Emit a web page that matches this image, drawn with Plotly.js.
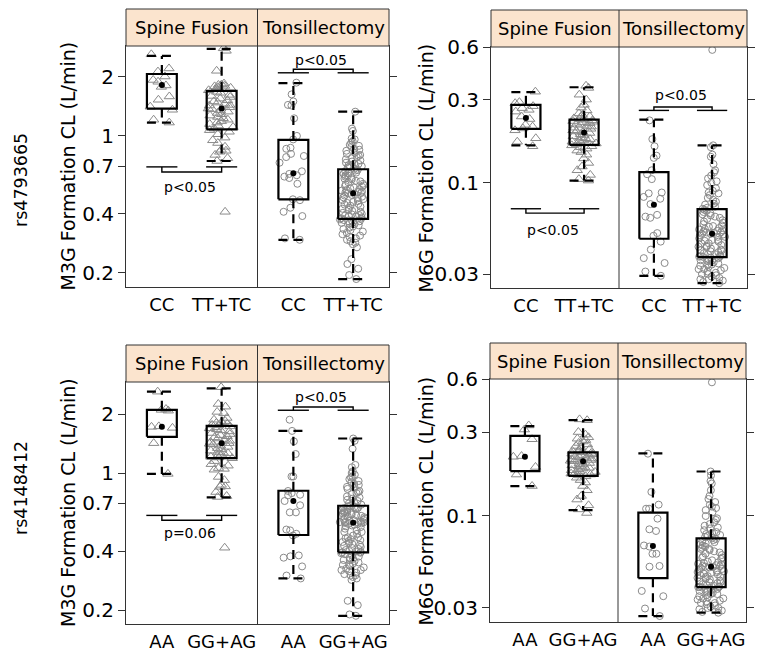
<!DOCTYPE html>
<html><head><meta charset="utf-8">
<script src="https://cdn.plot.ly/plotly-3.0.1.min.js"></script>
<style>html,body{margin:0;padding:0;background:#fff}</style>
</head><body><div id="chart" style="width:764px;height:655px"></div>
<script>
// ---------- labels ----------
const facets = ['Spine Fusion', 'Tonsillectomy'];
const genoA = ['CC', 'TT+TC', 'CC', 'TT+TC'];          // rs4793665
const genoB = ['AA', 'GG+AG', 'AA', 'GG+AG'];          // rs4148412
const rowLabels = ['rs4793665', 'rs4148412'];
const yTitles = ['M3G Formation CL (L/min)', 'M6G Formation CL (L/min)'];
const m3gTicks = [0.2, 0.4, 0.7, 1, 2];
const m6gTicks = [0.03, 0.1, 0.3, 0.6];

// ---------- M3G, rs4793665 ----------
const m3g_A_spine_CC = [2.61, 2.21, 2.13, 2.01, 1.93, 1.89, 1.81, 1.78, 1.59, 1.53, 1.41, 1.36, 1.21, 1.17];
const m3g_A_spine_TT = [2.80, 2.72, 2.15, 1.85, 1.83, 1.82, 1.80, 1.79, 1.77, 1.76, 1.74, 1.71, 1.68, 1.66, 1.62, 1.60, 1.58, 1.55, 1.52, 1.50, 1.48, 1.46, 1.44, 1.43, 1.40, 1.38, 1.37, 1.35, 1.33, 1.31, 1.29, 1.27, 1.25, 1.23, 1.21, 1.19, 1.17, 1.15, 1.13, 1.11, 1.09, 1.07, 1.05, 1.02, 0.98, 0.95, 0.92, 0.88, 0.85, 0.84, 0.83, 0.80, 0.77, 0.745, 0.41];
const m3g_A_tons_CC = [1.87, 1.63, 1.50, 1.44, 1.43, 1.23, 1.00, 0.96, 0.87, 0.86, 0.81, 0.79, 0.78, 0.73, 0.66, 0.64, 0.63, 0.62, 0.61, 0.57, 0.475, 0.47, 0.43, 0.41, 0.39, 0.30, 0.295];
const m3g_A_tons_TT = [1.33, 1.09, 1.06, 0.97, 0.96, 0.94, 0.92, 0.90, 0.89, 0.88, 0.86, 0.85, 0.84, 0.82, 0.81, 0.80, 0.79, 0.78, 0.77, 0.76, 0.75, 0.74, 0.73, 0.72, 0.72, 0.71, 0.70, 0.70, 0.69, 0.68,
  0.67, 0.665, 0.66, 0.65, 0.645, 0.64, 0.63, 0.628, 0.62, 0.61, 0.606, 0.60, 0.59, 0.586, 0.58, 0.57, 0.566, 0.56, 0.555, 0.55, 0.546, 0.54, 0.535, 0.53, 0.526, 0.52, 0.518, 0.515, 0.512, 0.51,
  0.505, 0.50, 0.496, 0.49, 0.486, 0.48, 0.476, 0.47, 0.465, 0.46, 0.455, 0.45, 0.446, 0.44, 0.436, 0.43, 0.425, 0.42, 0.415, 0.41, 0.405, 0.40, 0.398, 0.395, 0.392, 0.39, 0.387, 0.384, 0.38, 0.378,
  0.375, 0.372, 0.37, 0.367, 0.365, 0.362, 0.36, 0.357, 0.355, 0.35, 0.345, 0.34, 0.335, 0.33, 0.325, 0.32, 0.315, 0.31, 0.305, 0.30, 0.295, 0.29, 0.285, 0.28, 0.27, 0.235, 0.222, 0.21, 0.195, 0.186];
const m3g_A_q1  = [1.38, 1.08, 0.475, 0.377];
const m3g_A_med = [1.82, 1.38, 0.645, 0.51];
const m3g_A_q3  = [2.07, 1.70, 0.954, 0.676];
const m3g_A_lo  = [1.17, 0.745, 0.295, 0.186];
const m3g_A_hi  = [2.56, 2.78, 1.86, 1.33];

// ---------- M6G, rs4793665 ----------
const m6g_A_spine_CC = [0.333, 0.29, 0.286, 0.275, 0.268, 0.262, 0.256, 0.24, 0.232, 0.215, 0.21, 0.205, 0.2, 0.18, 0.172, 0.162];
const m6g_A_spine_TT = [0.36, 0.35, 0.32, 0.30, 0.28, 0.27, 0.26, 0.25, 0.245, 0.24, 0.237, 0.234, 0.232, 0.23, 0.228, 0.226, 0.224, 0.222, 0.22, 0.218, 0.215, 0.212, 0.21, 0.207, 0.204, 0.2, 0.197, 0.195, 0.193, 0.19, 0.188, 0.185, 0.182, 0.18, 0.178, 0.176, 0.174, 0.172, 0.17, 0.168, 0.166, 0.164, 0.162, 0.16, 0.157, 0.153, 0.15, 0.145, 0.138, 0.13, 0.124, 0.118, 0.111, 0.105, 0.103];
const m6g_A_tons_CC = [0.228, 0.178, 0.162, 0.143, 0.139, 0.118, 0.112, 0.105, 0.088, 0.087, 0.083, 0.081, 0.0755, 0.0655, 0.064, 0.063, 0.0515, 0.0497, 0.046, 0.0414, 0.037, 0.0347, 0.031, 0.0293];
const m6g_A_tons_TT = [0.578, 0.164, 0.16, 0.145, 0.141, 0.128, 0.118, 0.115, 0.11, 0.106, 0.102, 0.1, 0.097, 0.093, 0.09, 0.088, 0.087, 0.085, 0.082, 0.08, 0.078, 0.076, 0.075, 0.073, 0.072, 0.071,
  0.07, 0.069, 0.068, 0.067, 0.066, 0.065, 0.064, 0.063, 0.062, 0.061, 0.06, 0.059, 0.058, 0.057, 0.0565, 0.056, 0.055, 0.0545, 0.054, 0.0535, 0.053, 0.0525, 0.052, 0.0515, 0.051, 0.0505, 0.051, 0.052,
  0.05, 0.049, 0.048, 0.047, 0.0465, 0.046, 0.045, 0.044, 0.0435, 0.043, 0.042, 0.0415, 0.041, 0.0405, 0.04, 0.0395, 0.039, 0.0385, 0.038, 0.0378, 0.0376, 0.049, 0.047, 0.045, 0.043, 0.041, 0.039, 0.0377,
  0.0373, 0.037, 0.0365, 0.036, 0.0355, 0.035, 0.0345, 0.034, 0.0335, 0.033, 0.0325, 0.032, 0.0315, 0.031, 0.0305, 0.03, 0.0295, 0.029, 0.0285, 0.028, 0.0275, 0.027, 0.0266, 0.036, 0.034, 0.032, 0.03, 0.028];
const m6g_A_q1  = [0.204, 0.165, 0.0478, 0.0375];
const m6g_A_med = [0.235, 0.194, 0.0748, 0.051];
const m6g_A_q3  = [0.28, 0.23, 0.115, 0.0707];
const m6g_A_lo  = [0.164, 0.103, 0.0293, 0.0266];
const m6g_A_hi  = [0.331, 0.353, 0.23, 0.164];

// ---------- M3G, rs4148412 ----------
const m3g_B_spine_AA = [2.6, 2.12, 2.1, 2.08, 1.73, 1.72, 1.70, 1.42, 0.99];
const m3g_B_spine_GG = [2.74, 2.25, 2.18, 2.05, 2.02, 1.91, 1.87, 1.84, 1.82, 1.8, 1.78, 1.76, 1.75, 1.73, 1.71, 1.69, 1.67, 1.65, 1.63, 1.6, 1.58, 1.56, 1.54, 1.52, 1.5, 1.48, 1.46, 1.44, 1.42, 1.41, 1.4, 1.38, 1.36, 1.34, 1.32, 1.3, 1.28, 1.27, 1.26, 1.24, 1.22, 1.21, 1.2, 1.19, 1.15, 1.11, 1.09, 1.06, 1.05, 1.04, 0.955, 0.92, 0.87, 0.855, 0.85, 0.8, 0.763, 0.755, 0.416];
const m3g_B_tons_AA = [1.87, 1.64, 1.45, 1.25, 0.96, 0.96, 0.81, 0.79, 0.775, 0.77, 0.72, 0.685, 0.63, 0.63, 0.515, 0.51, 0.49, 0.48, 0.38, 0.376, 0.37, 0.334, 0.3, 0.29];
const m3g_B_tons_GG = [1.50, 1.46, 1.33, 1.1, 1.07, 1.02, 1.0, 0.98, 0.96, 0.95, 0.93, 0.91, 0.9, 0.88, 0.87, 0.85, 0.84, 0.83, 0.81, 0.8, 0.79, 0.78, 0.76, 0.75, 0.74, 0.73, 0.72, 0.71, 0.7, 0.69,
  0.68, 0.675, 0.67, 0.665, 0.66, 0.655, 0.65, 0.645, 0.64, 0.635, 0.63, 0.625, 0.62, 0.615, 0.61, 0.605, 0.6, 0.595, 0.59, 0.585, 0.58, 0.577, 0.574, 0.571, 0.568, 0.565, 0.562, 0.56, 0.558, 0.557, 0.66,
  0.553, 0.55, 0.545, 0.54, 0.535, 0.53, 0.52, 0.51, 0.5, 0.49, 0.48, 0.47, 0.465, 0.46, 0.455, 0.45, 0.445, 0.44, 0.435, 0.43, 0.425, 0.42, 0.415, 0.41, 0.405, 0.4, 0.398, 0.396, 0.394, 0.5, 0.47,
  0.392, 0.39, 0.385, 0.38, 0.375, 0.37, 0.365, 0.36, 0.355, 0.35, 0.345, 0.34, 0.335, 0.33, 0.325, 0.32, 0.315, 0.31, 0.305, 0.3, 0.295, 0.29, 0.285, 0.36, 0.34, 0.32, 0.3, 0.223, 0.212, 0.19, 0.187];
const m3g_B_q1  = [1.53, 1.19, 0.483, 0.394];
const m3g_B_med = [1.72, 1.42, 0.72, 0.557];
const m3g_B_q3  = [2.10, 1.74, 0.812, 0.681];
const m3g_B_lo  = [0.99, 0.751, 0.29, 0.187];
const m3g_B_hi  = [2.60, 2.70, 1.64, 1.50];

// ---------- M6G, rs4148412 ----------
const m6g_B_spine_AA = [0.327, 0.31, 0.273, 0.219, 0.217, 0.19, 0.172, 0.148];
const m6g_B_spine_GG = [0.354, 0.35, 0.3, 0.29, 0.28, 0.275, 0.27, 0.265, 0.26, 0.255, 0.25, 0.245, 0.24, 0.237, 0.234, 0.232, 0.23, 0.228, 0.226, 0.224, 0.222, 0.22, 0.218, 0.216, 0.214, 0.212, 0.21, 0.208, 0.206, 0.205, 0.203, 0.2, 0.198, 0.196, 0.194, 0.192, 0.19, 0.188, 0.186, 0.184, 0.182, 0.18, 0.178, 0.176, 0.174, 0.172, 0.17, 0.168, 0.165, 0.16, 0.155, 0.148, 0.14, 0.13, 0.124, 0.115, 0.109, 0.104];
const m6g_B_tons_AA = [0.226, 0.137, 0.116, 0.11, 0.11, 0.0966, 0.084, 0.0822, 0.068, 0.067, 0.061, 0.061, 0.052, 0.0515, 0.0375, 0.035, 0.0298, 0.027];
const m6g_B_tons_GG = [0.575, 0.179, 0.17, 0.158, 0.153, 0.14, 0.13, 0.12, 0.116, 0.113, 0.111, 0.105, 0.1, 0.097, 0.092, 0.09, 0.086, 0.085, 0.083, 0.081, 0.079, 0.078, 0.077, 0.076, 0.075, 0.08, 0.088, 0.095, 0.108, 0.125,
  0.074, 0.073, 0.072, 0.071, 0.07, 0.069, 0.068, 0.067, 0.066, 0.065, 0.064, 0.063, 0.062, 0.061, 0.06, 0.059, 0.058, 0.057, 0.056, 0.055, 0.0545, 0.054, 0.0535, 0.053, 0.0525, 0.052, 0.0518, 0.0516, 0.065, 0.058,
  0.0512, 0.051, 0.0505, 0.05, 0.0495, 0.049, 0.0485, 0.048, 0.0475, 0.047, 0.0465, 0.046, 0.0455, 0.045, 0.0445, 0.044, 0.0435, 0.043, 0.0425, 0.042, 0.0415, 0.041, 0.0405, 0.04, 0.0398, 0.0396, 0.0394, 0.048, 0.045, 0.042,
  0.0392, 0.039, 0.0385, 0.038, 0.0375, 0.037, 0.0365, 0.036, 0.0355, 0.035, 0.0345, 0.034, 0.0335, 0.033, 0.0325, 0.032, 0.0315, 0.031, 0.0305, 0.03, 0.0295, 0.029, 0.0285, 0.0282, 0.038, 0.036, 0.034, 0.032, 0.03, 0.0395];
const m6g_B_q1  = [0.18, 0.169, 0.0443, 0.0394];
const m6g_B_med = [0.217, 0.205, 0.0675, 0.0515];
const m6g_B_q3  = [0.285, 0.23, 0.1045, 0.0747];
const m6g_B_lo  = [0.148, 0.108, 0.027, 0.0282];
const m6g_B_hi  = [0.324, 0.351, 0.227, 0.179];

// significance brackets: [facet, level, bend, text level, text]
const brk1 = [[0, 0.695, 0.655, 0.55, 'p<0.05'], [1, 2.10, 2.19, 2.44, 'p<0.05']];
const brk2 = [[0, 0.071, 0.067, 0.0533, 'p<0.05'], [1, 0.26, 0.272, 0.319, 'p<0.05']];
const brk3 = [[0, 0.608, 0.574, 0.494, 'p=0.06'], [1, 2.09, 2.17, 2.44, 'p<0.05']];
const brk4 = [];

// ---------- build ----------
const W = 764, H = 655;
const FONT = 'DejaVu Sans';
const FRAME = '#333';
const PEACH = 'rgb(251,228,206)';
const POS = [1, 2, 3.2, 4.2];
const HW = 0.25;
const px = v => v / W, py = v => 1 - v / H;

const geo = [
  {l: 126, r: 389, top: 46, bot: 287, head: 9},
  {l: 491, r: 747, top: 47, bot: 288, head: 10},
  {l: 126, r: 389, top: 382, bot: 624, head: 345},
  {l: 490, r: 746, top: 379, bot: 622, head: 343}
];
const yr = [[-0.771, 0.459], [-1.603, Math.log10(0.6) + 0.0004], [-0.770, 0.4643], [-1.6025, Math.log10(0.6) + 0.0004]];

const panels = [
  {groups: [m3g_A_spine_CC, m3g_A_spine_TT, m3g_A_tons_CC, m3g_A_tons_TT], labels: genoA, q1: m3g_A_q1, med: m3g_A_med, q3: m3g_A_q3, lo: m3g_A_lo, hi: m3g_A_hi, ticks: m3gTicks, brk: brk1, title: yTitles[0]},
  {groups: [m6g_A_spine_CC, m6g_A_spine_TT, m6g_A_tons_CC, m6g_A_tons_TT], labels: genoA, q1: m6g_A_q1, med: m6g_A_med, q3: m6g_A_q3, lo: m6g_A_lo, hi: m6g_A_hi, ticks: m6gTicks, brk: brk2, title: yTitles[1]},
  {groups: [m3g_B_spine_AA, m3g_B_spine_GG, m3g_B_tons_AA, m3g_B_tons_GG], labels: genoB, q1: m3g_B_q1, med: m3g_B_med, q3: m3g_B_q3, lo: m3g_B_lo, hi: m3g_B_hi, ticks: m3gTicks, brk: brk3, title: yTitles[0]},
  {groups: [m6g_B_spine_AA, m6g_B_spine_GG, m6g_B_tons_AA, m6g_B_tons_GG], labels: genoB, q1: m6g_B_q1, med: m6g_B_med, q3: m6g_B_q3, lo: m6g_B_lo, hi: m6g_B_hi, ticks: m6gTicks, brk: brk4, title: yTitles[1]}
];

const traces = [], shapes = [], annotations = [];
const layout = {
  width: W, height: H, margin: {l: 0, r: 0, t: 0, b: 0},
  paper_bgcolor: '#fff', plot_bgcolor: '#fff', showlegend: false,
  font: {family: FONT, color: '#000'}, hovermode: false
};

panels.forEach((p, k) => {
  const n = k + 1;
  const xa = n === 1 ? 'x' : 'x' + n, ya = n === 1 ? 'y' : 'y' + n;
  const g = geo[k];
  layout[n === 1 ? 'xaxis' : 'xaxis' + n] = {
    domain: [px(g.l), px(g.r)], anchor: ya, range: [0.4, 4.8],
    tickmode: 'array', tickvals: POS, ticktext: p.labels, ticks: '',
    tickfont: {size: 18, family: FONT}, ticklabelstandoff: 1,
    showgrid: false, zeroline: false, showline: true, mirror: true, linecolor: FRAME, linewidth: 1
  };
  layout[n === 1 ? 'yaxis' : 'yaxis' + n] = {
    domain: [py(g.bot), py(g.top)], anchor: xa, type: 'log', range: yr[k],
    tickmode: 'array', tickvals: p.ticks, ticktext: p.ticks.map(String),
    ticks: 'outside', ticklen: 7, tickwidth: 1, tickcolor: FRAME,
    tickfont: {size: 20, family: FONT},
    showgrid: false, zeroline: false, showline: true, mirror: 'ticks', linecolor: FRAME, linewidth: 1
  };

  // jittered points
  p.groups.forEach((vals, i) => {
    const tri = i < 2;
    traces.push({
      type: 'box', y: vals, x0: POS[i], xaxis: xa, yaxis: ya,
      boxpoints: 'all', jitter: 0.95, pointpos: 0, width: 2 * HW,
      line: {width: 0, color: 'rgba(0,0,0,0)'}, fillcolor: 'rgba(0,0,0,0)', whiskerwidth: 0,
      marker: {symbol: tri ? 'triangle-up-open' : 'circle-open', size: tri ? 9 : 7, color: '#8a8a8a', line: {width: 1}},
      hoverinfo: 'skip'
    });
  });

  // boxes, whiskers, medians
  POS.forEach((c, i) => {
    traces.push({
      type: 'scatter', mode: 'lines', xaxis: xa, yaxis: ya, hoverinfo: 'skip',
      x: [c - HW, c + HW, c + HW, c - HW, c - HW],
      y: [p.q1[i], p.q1[i], p.q3[i], p.q3[i], p.q1[i]],
      line: {color: '#000', width: 2.2}
    });
    traces.push({
      type: 'scatter', mode: 'lines', xaxis: xa, yaxis: ya, hoverinfo: 'skip', connectgaps: false,
      x: [c, c, null, c - HW, c + HW, null, c, c, null, c - HW, c + HW],
      y: [p.q3[i], p.hi[i], null, p.hi[i], p.hi[i], null, p.q1[i], p.lo[i], null, p.lo[i], p.lo[i]],
      line: {color: '#000', width: 2.2, dash: '9px,6px'}
    });
    traces.push({
      type: 'scatter', mode: 'markers', xaxis: xa, yaxis: ya, hoverinfo: 'skip',
      x: [c], y: [p.med[i]], marker: {color: '#000', size: 6}
    });
  });

  // brackets
  p.brk.forEach(b => {
    const a = POS[b[0] * 2], c2 = POS[b[0] * 2 + 1];
    traces.push({
      type: 'scatter', mode: 'lines', xaxis: xa, yaxis: ya, hoverinfo: 'skip', connectgaps: false,
      x: [a - 0.26, a + 0.26, null, a, a, c2, c2, null, c2 - 0.26, c2 + 0.26],
      y: [b[1], b[1], null, b[1], b[2], b[2], b[1], null, b[1], b[1]],
      line: {color: '#000', width: 1.4}
    });
    annotations.push({
      xref: xa, yref: ya, x: (a + c2) / 2 - 0.03, y: Math.log10(b[3]), text: b[4],
      showarrow: false, xanchor: 'center', yanchor: 'middle', font: {size: 14, family: FONT, color: '#000'}
    });
  });

  // strip header and divider
  shapes.push({type: 'rect', xref: 'paper', yref: 'paper', x0: px(g.l), x1: px(g.r), y0: py(g.top), y1: py(g.head),
    fillcolor: PEACH, line: {color: FRAME, width: 1}, layer: 'above'});
  shapes.push({type: 'line', xref: xa, yref: 'paper', x0: 2.6, x1: 2.6, y0: py(g.bot), y1: py(g.head),
    line: {color: FRAME, width: 1}, layer: 'above'});
  facets.forEach((f, j) => {
    annotations.push({xref: xa, yref: 'paper', x: j === 0 ? 1.5 : 3.7, y: py((g.head + g.top) / 2), text: f,
      showarrow: false, xanchor: 'center', yanchor: 'middle', font: {size: 18, family: FONT, color: '#000'}});
  });
  // y title
  annotations.push({xref: 'paper', yref: 'paper', x: px(k % 2 === 0 ? 68 : 425), y: py((g.top + g.bot) / 2),
    text: p.title, textangle: -90, showarrow: false, xanchor: 'center', yanchor: 'middle',
    font: {size: 19, family: FONT, color: '#000'}});
});

annotations.push({xref: 'paper', yref: 'paper', x: px(21), y: py(180), text: rowLabels[0], textangle: -90,
  showarrow: false, xanchor: 'center', yanchor: 'middle', font: {size: 17.5, family: FONT, color: '#000'}});
annotations.push({xref: 'paper', yref: 'paper', x: px(21), y: py(488), text: rowLabels[1], textangle: -90,
  showarrow: false, xanchor: 'center', yanchor: 'middle', font: {size: 17.5, family: FONT, color: '#000'}});

layout.shapes = shapes;
layout.annotations = annotations;

Plotly.newPlot('chart', traces, layout, {staticPlot: true, displayModeBar: false});
</script></body></html>
